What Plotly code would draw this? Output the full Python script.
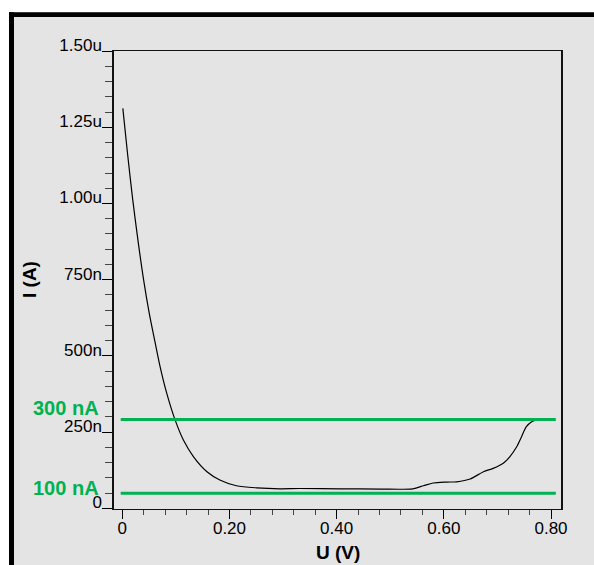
import plotly.graph_objects as go

# ---- data ----
U_V = [0.001, 0.010, 0.0195, 0.030, 0.040, 0.050, 0.061, 0.0705, 0.083, 0.0985,
       0.114, 0.133, 0.158, 0.182, 0.213, 0.251, 0.294, 0.331, 0.406, 0.481,
       0.542, 0.562, 0.580, 0.605, 0.624, 0.649, 0.674, 0.692, 0.711, 0.723,
       0.736, 0.745, 0.754, 0.764, 0.772]
I_nA = [1312, 1160, 1012, 869, 747, 643, 546, 465, 377, 290,
        224, 169, 120, 93, 74, 67, 64, 65, 64, 63,
        64, 74, 83, 86, 87, 96, 120, 131, 148, 169,
        202, 235, 268, 284, 290]

ref_levels_nA = [291, 49]
ref_labels = ["300 nA", "100 nA"]
ref_x = [-0.003, 0.809]

x_tickvals = [0, 0.2, 0.4, 0.6, 0.8]
x_ticktext = ["0", "0.20", "0.40", "0.60", "0.80"]
y_tickvals = [0, 250, 500, 750, 1000, 1250, 1500]
y_ticktext = ["0", "250n", "500n", "750n", "1.00u", "1.25u", "1.50u"]

GREEN = "#00b251"
GRAY = "#e4e4e4"
FONT = "Arial, Liberation Sans, sans-serif"

W, H = 594, 565
L, R, T, B = 114, 561, 51, 509  # plot area in pixels


def px_x(p):
    return (p - L) / (R - L)


def px_y(p):
    return (B - p) / (B - T)


# minor tick positions: 4 subdivisions between each pair of major ticks
x_minor = [a + (b - a) * k / 5 for a, b in zip(x_tickvals[:-1], x_tickvals[1:]) for k in range(1, 5)]
y_minor = [a + (b - a) * k / 5 for a, b in zip(y_tickvals[:-1], y_tickvals[1:]) for k in range(1, 5)]

fig = go.Figure()

fig.add_trace(go.Scatter(
    x=U_V, y=I_nA, mode="lines",
    line=dict(color="black", width=1.2, shape="spline", smoothing=0.8),
    showlegend=False, hoverinfo="skip"))

for lvl in ref_levels_nA:
    fig.add_trace(go.Scatter(
        x=ref_x, y=[lvl, lvl], mode="lines",
        line=dict(color=GREEN, width=3),
        showlegend=False, hoverinfo="skip"))

shift = {0: 12, 1: 5}
for i, (lvl, lab) in enumerate(zip(ref_levels_nA, ref_labels)):
    fig.add_annotation(
        x=px_x(101), xref="paper", y=lvl, yref="y", yshift=shift[i],
        text="<b>%s</b>" % lab, showarrow=False, xanchor="right", yanchor="middle",
        font=dict(family=FONT, size=20, color=GREEN))

# axis titles
fig.add_annotation(x=0.5, xref="paper", y=px_y(552), yref="paper",
                   text="<b>U (V)</b>", showarrow=False, xanchor="center", yanchor="middle",
                   font=dict(family=FONT, size=19, color="black"))
fig.add_annotation(x=px_x(29), xref="paper", y=0.5, yref="paper", textangle=-90,
                   text="<b>I (A)</b>", showarrow=False, xanchor="center", yanchor="middle",
                   font=dict(family=FONT, size=19, color="black"))

# outer frame (white margin + thick black border)
shapes = [
    dict(type="rect", xref="paper", yref="paper", x0=-0.4, x1=1.3, y0=px_y(12.3), y1=1.3,
         fillcolor="white", line_width=0, layer="above"),
    dict(type="rect", xref="paper", yref="paper", x0=-0.4, x1=px_x(9), y0=-0.3, y1=1.3,
         fillcolor="white", line_width=0, layer="above"),
    dict(type="rect", xref="paper", yref="paper", x0=px_x(9), x1=1.3, y0=px_y(17), y1=px_y(12.3),
         fillcolor="black", line_width=0, layer="above"),
    dict(type="rect", xref="paper", yref="paper", x0=px_x(9), x1=px_x(14), y0=-0.3, y1=px_y(12.3),
         fillcolor="black", line_width=0, layer="above"),
]

x0_val, x08 = 122.3, 551.0
ppu = (x08 - x0_val) / 0.8
y0_px, per250 = 508.3, 76.2

fig.update_layout(
    width=W, height=H,
    margin=dict(l=L, r=W - R, t=T, b=H - B, pad=0),
    paper_bgcolor=GRAY, plot_bgcolor=GRAY,
    font=dict(family=FONT, size=17, color="black"),
    shapes=shapes,
    xaxis=dict(
        range=[(L - x0_val) / ppu, (R - x0_val) / ppu],
        tickmode="array", tickvals=x_tickvals, ticktext=x_ticktext,
        ticks="outside", ticklen=9, tickwidth=1, tickcolor="black",
        ticklabelstandoff=-6,
        minor=dict(ticks="outside", ticklen=5, tickwidth=1, tickcolor="#444",
                   tickmode="array", tickvals=x_minor),
        showline=True, linecolor="#111", linewidth=1.2, mirror=True,
        showgrid=False, zeroline=False,
        tickfont=dict(family=FONT, size=17, color="black"),
    ),
    yaxis=dict(
        range=[(y0_px - B) / per250 * 250, (y0_px - T) / per250 * 250],
        tickmode="array", tickvals=y_tickvals, ticktext=y_ticktext,
        ticks="outside", ticklen=10, tickwidth=1, tickcolor="black",
        ticklabelshift=-6, ticklabelstandoff=-3,
        minor=dict(ticks="outside", ticklen=7, tickwidth=1, tickcolor="#444",
                   tickmode="array", tickvals=y_minor),
        showline=True, linecolor="#111", linewidth=1.5, mirror=True,
        showgrid=False, zeroline=False,
        tickfont=dict(family=FONT, size=17, color="black"),
    ),
)

fig.write_html(
    "out.html",
    config={"displayModeBar": False},
    post_script="document.body.style.margin='0';document.body.style.padding='0';"
                "document.body.style.overflow='hidden';",
)
